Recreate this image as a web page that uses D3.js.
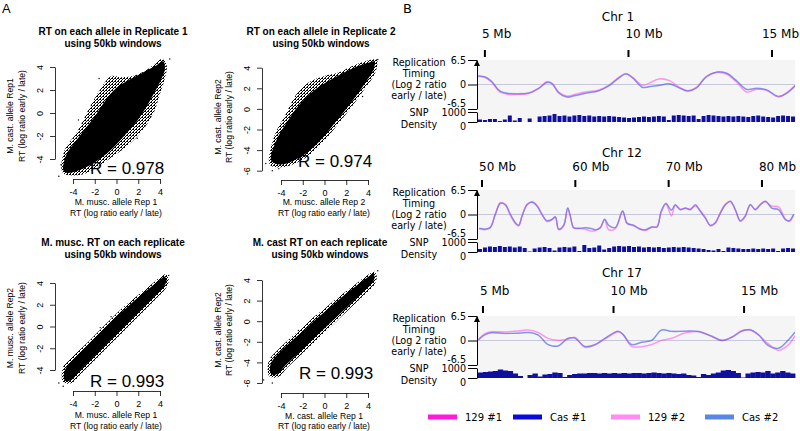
<!DOCTYPE html>
<html>
<head>
<meta charset="utf-8">
<script src="https://cdn.jsdelivr.net/npm/d3@7"></script>
<style>
  body { margin: 0; background: #fff; }
  svg { display: block; }
</style>
</head>
<body>
<svg id="fig" width="800" height="431"></svg>
<script>
// ---------- Panel A: RT scatter clouds (log ratio early / late) ----------
const xTicksA = [-4, -2, 0, 2, 4];
const yTicksShort = [-4, -2, 0, 2, 4];
const yTicksLong = [-6, -4, -2, 0, 2, 4];

// outline of the dense core and of the sparse fringe, plus stray points
const rep1Core = [[-4.9,-4.96],[-4.6,-3.6],[-3.7,-2.4],[-2.9,-1.4],[-2.0,-0.3],[-1.0,1.1],[0.0,2.2],[1.0,2.8],[2.4,3.5],[3.6,4.1],[4.3,4.5],[4.45,3.8],[4.0,2.7],[3.5,1.8],[2.8,0.6],[1.9,-0.7],[0.7,-2.0],[-0.5,-3.2],[-2.0,-4.3],[-3.5,-5.0],[-4.6,-5.2]];
const rep1Fringe = [[-5.0,-5.1],[-4.8,-3.3],[-3.6,-1.6],[-2.4,0.6],[-1.4,2.2],[-0.5,3.2],[0.5,3.1],[1.8,3.3],[3.0,3.9],[4.2,4.7],[4.6,4.2],[4.5,3.2],[3.9,1.4],[3.5,0.2],[2.4,-1.5],[1.2,-2.7],[-0.2,-3.7],[-1.6,-4.6],[-3.0,-5.3],[-4.5,-5.4]];
const rep1Dots = [[-5.3,-5.5],[-5.1,-4.5],[4.9,4.7],[3.1,-0.3],[2.6,-1.1],[-1.6,3.0],[-3.5,-0.6],[1.9,-2.2]];

const rep2Core = [[-4.9,-5.0],[-4.4,-3.0],[-3.4,-1.2],[-2.4,0.3],[-1.2,1.6],[0.0,2.5],[1.2,3.2],[2.5,3.9],[3.8,4.4],[4.6,4.6],[4.5,3.8],[3.8,2.6],[3.0,1.4],[2.0,0.0],[1.0,-1.3],[0.0,-2.6],[-1.2,-3.9],[-2.6,-4.9],[-4.0,-5.4]];
const rep2Fringe = [[-5.1,-5.2],[-4.6,-2.6],[-3.6,-0.6],[-2.6,1.4],[-1.4,2.6],[0.0,3.2],[1.2,3.5],[2.6,4.2],[4.0,4.7],[4.8,4.8],[4.7,3.6],[3.4,1.5],[2.2,-0.2],[1.0,-1.8],[-0.3,-3.4],[-1.8,-4.8],[-3.5,-5.6],[-4.8,-5.6]];
const rep2Dots = [[-5.4,-5.3],[-4.8,-6.0],[-4.2,-5.8],[4.9,4.8],[-3.0,0.3],[3.5,1.2]];

const muscCore = [[-4.85,-4.7],[-4.7,-3.9],[-4.0,-3.1],[-3.0,-2.1],[-2.0,-1.1],[-1.0,-0.1],[0.0,0.9],[1.0,1.8],[2.0,2.7],[3.0,3.5],[4.0,4.3],[4.4,4.6],[4.6,4.3],[4.4,3.7],[3.5,2.8],[2.5,1.8],[1.5,0.8],[0.5,-0.2],[-0.5,-1.2],[-1.5,-2.2],[-2.5,-3.2],[-3.5,-4.2],[-4.2,-4.95],[-4.7,-5.0]];
const muscFringe = [[-5.0,-4.9],[-4.9,-3.7],[-4.1,-2.8],[-3.0,-1.8],[-2.0,-0.8],[-1.0,0.2],[0.0,1.2],[1.0,2.1],[2.0,2.9],[3.0,3.7],[4.0,4.5],[4.5,4.8],[4.8,4.4],[4.6,3.6],[3.6,2.5],[2.6,1.5],[1.6,0.5],[0.6,-0.5],[-0.4,-1.5],[-1.4,-2.5],[-2.4,-3.5],[-3.4,-4.5],[-4.1,-5.2],[-4.8,-5.2]];
const muscDots = [[-5.3,-5.2],[-4.9,-5.5],[4.8,4.7],[-0.5,0.9],[-1.5,-0.1]];

const castCore = [[-5.0,-4.9],[-4.9,-4.0],[-4.2,-3.1],[-3.0,-1.9],[-2.0,-1.0],[-1.0,0.0],[0.0,0.9],[1.0,1.8],[2.0,2.7],[3.0,3.5],[4.0,4.3],[4.5,4.6],[4.6,4.2],[4.3,3.6],[3.4,2.7],[2.4,1.7],[1.4,0.7],[0.4,-0.3],[-0.6,-1.3],[-1.6,-2.3],[-2.6,-3.3],[-3.6,-4.3],[-4.3,-5.1],[-4.8,-5.2]];
const castFringe = [[-5.2,-5.0],[-5.1,-3.8],[-4.3,-2.8],[-3.1,-1.6],[-2.1,-0.7],[-1.1,0.3],[0.0,1.2],[1.0,2.1],[2.0,2.9],[3.0,3.7],[4.0,4.5],[4.6,4.8],[4.8,4.3],[4.5,3.4],[3.5,2.4],[2.5,1.4],[1.5,0.4],[0.5,-0.6],[-0.5,-1.6],[-1.5,-2.6],[-2.5,-3.6],[-3.5,-4.6],[-4.2,-5.4],[-5.0,-5.4]];
const castDots = [[-5.6,-5.7],[-4.8,-6.0],[4.9,4.9],[-2.4,-0.9]];

// ---------- Panel B: replication timing tracks ----------
const seriesNames = ["129 #1", "Cas #1", "129 #2", "Cas #2"];

const chr1Ticks = [5, 10, 15];
const chr1Pos = [4.77,5.0,5.23,5.53,5.82,6.17,6.52,6.87,7.16,7.34,7.57,7.86,8.15,8.5,8.97,9.32,9.67,9.91,10.14,10.49,10.72,11.07,11.43,11.78,12.07,12.36,12.71,13.06,13.41,13.76,14.11,14.46,14.81,15.22,15.51,15.81];
const chr1_129_1 = [2.2,1.9,0.7,-2.0,-2.6,-2.6,-2.4,-1.1,0.7,0.3,-2.0,-3.1,-2.6,-2.0,-1.5,-0.2,1.9,2.8,1.9,-0.2,0.4,1.5,1.0,-0.8,-1.7,-0.8,2.0,3.2,2.8,0.7,-2.0,-1.3,-1.5,-3.3,-2.2,-0.2];
const chr1_cas_1 = [2.3,2.0,0.8,-1.8,-2.4,-2.5,-2.3,-1.0,0.6,0.2,-2.2,-3.3,-2.9,-2.3,-1.6,-0.3,1.8,2.9,1.8,-0.8,-0.6,-0.2,0.2,-0.9,-1.7,-0.9,2.1,3.3,3.0,1.0,-1.3,-1.0,-1.4,-3.2,-2.3,-0.3];
const chr1_129_2 = [2.1,1.8,0.6,-2.1,-2.7,-2.7,-2.4,-1.0,0.8,0.3,-2.1,-3.0,-2.5,-1.9,-1.4,-0.1,2.0,2.9,1.8,-0.3,0.3,1.4,1.1,-0.7,-1.6,-0.7,2.1,3.1,2.7,0.6,-1.9,-1.2,-1.6,-3.2,-2.1,-0.1];
const chr1_cas_2 = [2.2,2.0,0.9,-1.7,-2.3,-2.4,-2.2,-1.1,0.5,0.2,-2.3,-3.4,-3.0,-2.4,-1.7,-0.4,1.7,2.8,1.9,-0.7,-0.5,-0.3,0.1,-1.0,-1.8,-1.0,2.0,3.2,3.1,1.1,-1.2,-1.1,-1.5,-3.1,-2.4,-0.4];
const chr1Snp = [250,200,300,300,100,250,650,150,400,0,350,0,550,600,650,800,600,650,550,650,700,600,650,550,600,550,600,550,500,450,400,450,500,550,500,550,600,550,200,650,700,650,600,650,300,600,700,650,600,550,600,550,600,550,500,600,650,550,500,450,600,650,600,550];

const chr12Ticks = [50, 60, 70, 80];
const chr12Pos = [49.71,50.36,50.89,51.43,51.96,52.5,53.04,53.57,53.93,54.29,54.82,55.36,55.89,56.43,56.96,57.5,57.86,58.21,58.75,59.18,59.46,59.82,60.36,61.07,61.79,62.14,62.68,63.14,63.57,64.29,65.07,65.54,66.25,66.96,67.5,68.21,68.75,69.21,69.71,70.29,70.71,71.25,71.79,72.32,72.86,73.39,73.93,74.46,75.0,75.54,76.07,76.61,77.14,77.68,78.21,78.75,79.29,79.82,80.36,81.07,81.79,82.5,82.93,83.39];
const chr12_129_1 = [-3.8,-4.0,-3.4,0.2,3.1,2.5,-0.2,-2.4,-3.0,-0.3,2.5,3.4,2.4,0.1,-1.8,-1.4,-0.7,-4.0,-3.0,1.6,-0.5,-3.6,-3.6,-3.9,-4.4,-4.3,-3.4,-1.4,-4.0,-3.8,0.8,-2.4,-3.0,-3.8,-4.2,-3.4,-3.2,0.7,2.8,-0.4,2.4,1.4,1.6,1.5,2.2,1.0,-0.8,-3.0,-2.3,0.5,2.7,3.4,1.2,-1.8,-0.5,2.5,1.4,2.7,3.4,2.2,2.0,-1.2,-1.8,-0.2];
const chr12_cas_1 = [-3.7,-3.9,-3.5,0,3.0,2.6,0,-2.2,-2.9,-0.4,2.6,3.3,2.3,0,-1.7,-1.3,-0.6,-3.9,-2.9,1.7,-0.4,-3.5,-3.7,-3.5,-3.8,-4.1,-3.5,-1.3,-2.9,-3.5,0.9,-2.3,-2.9,-3.9,-4.1,-3.3,-3.3,0.9,2.9,1.1,2.6,1.3,1.7,1.3,2.6,0.9,-0.9,-2.9,-2.2,0.4,2.6,3.5,1.3,-1.7,-0.4,2.6,1.3,2.6,3.5,1.7,1.3,-1.3,-1.7,0];
const chr12_129_2 = [-3.9,-4.1,-3.3,0.3,3.2,2.4,-0.3,-2.5,-3.1,-0.2,2.4,3.5,2.5,0.2,-1.9,-1.5,-0.8,-4.1,-3.1,1.5,-0.6,-3.7,-3.5,-4.0,-4.5,-4.2,-3.3,-1.5,-4.1,-3.7,0.7,-2.5,-3.1,-3.7,-4.3,-3.5,-3.1,0.6,2.7,-0.2,2.3,1.5,1.5,1.6,2.1,1.1,-0.7,-3.1,-2.4,0.6,2.8,3.3,1.1,-1.9,-0.6,2.4,1.5,2.8,3.3,2.3,2.1,-1.1,-1.9,-0.3];
const chr12_cas_2 = [-3.6,-3.8,-3.4,0.1,2.9,2.7,0.1,-2.1,-2.8,-0.5,2.7,3.2,2.2,-0.1,-1.6,-1.2,-0.7,-3.8,-2.8,1.8,-0.3,-3.4,-3.8,-3.6,-3.7,-4.0,-3.6,-1.2,-2.8,-3.4,1.0,-2.2,-2.8,-4.0,-4.0,-3.2,-3.4,1.0,3.0,1.2,2.5,1.2,1.8,1.2,2.5,0.8,-1.0,-2.8,-2.1,0.3,2.5,3.6,1.4,-1.6,-0.3,2.7,1.2,2.5,3.6,1.6,1.2,-1.4,-1.6,0.1];
const chr12Snp = [300,450,550,500,600,500,550,450,550,400,50,350,450,500,400,150,450,500,450,550,100,700,400,450,650,250,400,550,600,550,600,500,550,450,500,450,500,400,450,500,450,500,450,400,350,300,200,150,300,100,450,400,350,300,300,350,300,350,300,350,100,350,400,350];

const chr17Ticks = [5, 10, 15];
const chr17Pos = [4.83,5.06,5.32,5.83,6.34,6.73,7.11,7.49,7.88,8.26,8.52,8.9,9.28,9.67,10.18,10.37,10.69,11.07,11.46,11.84,12.23,12.74,13.25,13.76,14.14,14.53,14.91,15.23,15.55,15.93,16.32,16.7,16.95];
const chr17_129_1 = [0.2,1.8,2.3,2.3,2.5,2.8,2.1,0.6,0,0.4,0.8,-1.8,-1.2,0.4,2.3,1.6,-1.6,-1.6,-1.1,0,0.6,2.0,2.4,1.1,0,0.9,2.6,2.8,1.5,-0.9,-2.6,-1.1,1.3];
const chr17_cas_1 = [0.2,1.5,2.1,1.9,1.9,2.1,1.5,-1.1,-1.4,0.6,0.6,-1.6,-1.1,0.6,2.5,1.5,-1.1,-0.5,0,2.8,2.4,2.5,2.4,1.1,0,0.9,2.5,2.8,1.5,-1.4,-2.0,0.2,2.2];
const chr17_129_2 = [0.1,1.7,2.4,2.2,2.6,2.7,2.2,0.5,0.1,0.3,0.9,-1.9,-1.1,0.3,2.2,1.7,-1.5,-1.7,-1.0,0.1,0.5,2.1,2.3,1.0,0.1,0.8,2.7,2.7,1.4,-1.0,-2.5,-1.2,1.2];
const chr17_cas_2 = [0.3,1.4,2.0,1.8,2.0,2.2,1.4,-1.0,-1.5,0.5,0.7,-1.5,-1.2,0.5,2.4,1.6,-1.0,-0.4,0.1,2.7,2.5,2.4,2.3,1.2,0.1,0.8,2.4,2.9,1.6,-1.3,-2.1,0.1,2.3];
const chr17Snp = [550,600,650,700,850,750,700,450,200,0,300,450,150,350,400,550,500,100,300,400,450,450,500,500,450,500,450,500,450,500,450,500,500,450,500,550,500,450,500,450,400,450,300,250,100,400,300,450,550,750,800,700,500,50,450,550,600,550,700,450,550,700,550,450];

// ---------- layout ----------
const panelsA = [
  { title: ["RT on each allele in Replicate 1", "using 50kb windows"],
    ylab: ["M. cast. allele Rep1", "RT (log ratio early / late)"],
    xlab: ["M. musc. allele Rep 1", "RT (log ratio early / late)"],
    r: "R = 0.978", core: rep1Core, fringe: rep1Fringe, dots: rep1Dots, yTicks: yTicksShort,
    x0: 73, x1: 160, yTop: 67, yBot: 159, axisX: 55, axisY: 179,
    titleX: 113, titleY: [35, 47], ylabX: [10, 22], ylabY: 116, xlabX: 116, xlabY: [205, 216], rX: 90, rY: 174 },
  { title: ["RT on each allele in Replicate 2", "using 50kb windows"],
    ylab: ["M. cast. allele Rep2", "RT (log ratio early / late)"],
    xlab: ["M. musc. allele Rep 2", "RT (log ratio early / late)"],
    r: "R = 0.974", core: rep2Core, fringe: rep2Fringe, dots: rep2Dots, yTicks: yTicksLong,
    x0: 281, x1: 368, yTop: 67.7, yBot: 170.7, axisX: 262, axisY: 180,
    titleX: 321, titleY: [35, 47], ylabX: [218, 229], ylabY: 117, xlabX: 324, xlabY: [205, 216], rX: 298, rY: 167 },
  { title: ["M. musc. RT on each replicate", "using 50kb windows"],
    ylab: ["M. musc. allele Rep2", "RT (log ratio early / late)"],
    xlab: ["M. musc. allele Rep 1", "RT (log ratio early / late)"],
    r: "R = 0.993", core: muscCore, fringe: muscFringe, dots: muscDots, yTicks: yTicksShort,
    x0: 73, x1: 160, yTop: 283, yBot: 370, axisX: 55, axisY: 391,
    titleX: 113, titleY: [246, 258], ylabX: [10, 22], ylabY: 328, xlabX: 116, xlabY: [418, 429], rX: 90, rY: 387 },
  { title: ["M. cast RT on each replicate", "using 50kb windows"],
    ylab: ["M. cast. allele Rep2", "RT (log ratio early / late)"],
    xlab: ["M. cast. allele Rep 1", "RT (log ratio early / late)"],
    r: "R = 0.993", core: castCore, fringe: castFringe, dots: castDots, yTicks: yTicksLong,
    x0: 281, x1: 368, yTop: 280, yBot: 383, axisX: 262, axisY: 393,
    titleX: 320, titleY: [246, 258], ylabX: [218, 229], ylabY: 330, xlabX: 324, xlabY: [419, 429], rX: 299, rY: 379 }
];

const tracks = [
  { name: "Chr 1", pos: chr1Pos, lines: [chr1_129_1, chr1_cas_1, chr1_129_2, chr1_cas_2], snp: chr1Snp,
    domain: [4.76, 15.8], ticks: chr1Ticks, top: 60, titleY: 21, mbY: 38, titleX: 618, pad: 0.2 },
  { name: "Chr 12", pos: chr12Pos, lines: [chr12_129_1, chr12_cas_1, chr12_129_2, chr12_cas_2], snp: chr12Snp,
    domain: [49.57, 83.54], ticks: chr12Ticks, top: 190, titleY: 157, mbY: 171, titleX: 622, pad: 0.2 },
  { name: "Chr 17", pos: chr17Pos, lines: [chr17_129_1, chr17_cas_1, chr17_129_2, chr17_cas_2], snp: chr17Snp,
    domain: [4.81, 16.95], ticks: chr17Ticks, top: 316, titleY: 277, mbY: 295, titleX: 622, pad: 0 }
];
const seriesColors = ["#ff1ad9", "#0a0adc", "#ff8cf0", "#5a87e6"];

const svg = d3.select("#fig");
const fontA = "'Liberation Sans', Arial, sans-serif";
const fontB = "'DejaVu Sans', sans-serif";

// sparse dot pattern to imitate the speckled edge of each cloud
const pat = svg.append("defs").append("pattern")
  .attr("id", "speckle").attr("width", 3).attr("height", 3)
  .attr("patternUnits", "userSpaceOnUse");
[[0, 0], [2, 1], [1, 2], [1, 0]].forEach(([px, py]) => {
  pat.append("rect").attr("x", px).attr("y", py).attr("width", 1).attr("height", 1).attr("fill", "#000");
});

// ---------- draw panel A ----------
const gA = svg.append("g").attr("font-family", fontA);
gA.append("text").attr("x", 2).attr("y", 13).attr("font-size", 13).text("A");

panelsA.forEach(p => {
  const x = d3.scaleLinear().domain([-4, 4]).range([p.x0, p.x1]);
  const y = d3.scaleLinear().domain(d3.extent(p.yTicks)).range([p.yBot, p.yTop]);
  const g = gA.append("g");

  const outline = d3.line()
    .x(d => x(d[0]))
    .y(d => y(d[1]))
    .curve(d3.curveCatmullRomClosed);

  g.append("path").attr("d", outline(p.fringe)).attr("fill", "url(#speckle)");
  g.append("path").attr("d", outline(p.core)).attr("fill", "#000");
  g.selectAll("circle")
    .data(p.dots)
    .join("circle")
    .attr("cx", d => x(d[0]))
    .attr("cy", d => y(d[1]))
    .attr("r", 0.7)
    .attr("fill", "#000");

  // axes (R style: detached, labels parallel to axis)
  const gx = g.append("g")
    .attr("transform", `translate(0,${p.axisY})`)
    .call(d3.axisBottom(x).tickValues(xTicksA).tickSize(5).tickSizeOuter(0).tickPadding(5).tickFormat(d => String(d)));
  const gy = g.append("g")
    .attr("transform", `translate(${p.axisX},0)`)
    .call(d3.axisLeft(y).tickValues(p.yTicks).tickSize(5).tickSizeOuter(0).tickFormat(d => String(d)));
  [gx, gy].forEach(a => {
    a.attr("font-family", fontA).attr("font-size", 9);
    a.selectAll("path, line").attr("stroke-width", 0.8);
  });
  gy.selectAll(".tick text")
    .attr("x", 0).attr("y", -15).attr("dy", "0.35em")
    .attr("text-anchor", "middle")
    .attr("transform", "rotate(-90)");

  g.selectAll("text.title")
    .data(p.title)
    .join("text")
    .attr("class", "title")
    .attr("x", p.titleX)
    .attr("y", (d, i) => p.titleY[i])
    .attr("text-anchor", "middle")
    .attr("font-size", 10)
    .attr("font-weight", "bold")
    .text(d => d);

  g.selectAll("text.ylab")
    .data(p.ylab)
    .join("text")
    .attr("class", "ylab")
    .attr("transform", (d, i) => `translate(${p.ylabX[i]},${p.ylabY}) rotate(-90)`)
    .attr("dy", "0.35em")
    .attr("text-anchor", "middle")
    .attr("font-size", 8.6)
    .text(d => d);

  g.selectAll("text.xlab")
    .data(p.xlab)
    .join("text")
    .attr("class", "xlab")
    .attr("x", p.xlabX)
    .attr("y", (d, i) => p.xlabY[i])
    .attr("text-anchor", "middle")
    .attr("font-size", 8.6)
    .text(d => d);

  g.append("text")
    .attr("x", p.rX)
    .attr("y", p.rY)
    .attr("font-size", 17)
    .text(p.r);
});

// ---------- draw panel B ----------
const gB = svg.append("g").attr("font-family", fontB);
gB.append("text").attr("x", 403).attr("y", 13).attr("font-size", 13).text("B");

const xL = 478, xR = 795;
const labX = 419;

tracks.forEach((t, ti) => {
  const x = d3.scaleLinear().domain(t.domain).range([xL, xR]);
  const y = d3.scaleLinear().domain([-6.5, 6.5]).range([t.top + 49, t.top]);
  const ys = d3.scaleLinear().domain([0, 1000]).range([t.top + 62, t.top + 52]);
  const bins = d3.scaleBand().domain(d3.range(t.snp.length)).range([xL, xR]).paddingInner(t.pad);
  const g = gB.append("g");

  g.append("rect")
    .attr("x", xL).attr("y", t.top)
    .attr("width", xR - xL).attr("height", 62)
    .attr("fill", "#f5f5f5");

  g.append("text")
    .attr("x", t.titleX).attr("y", t.titleY)
    .attr("text-anchor", "middle").attr("font-size", 12)
    .text(t.name);

  // Mb position marks
  g.selectAll("line.mb")
    .data(t.ticks)
    .join("line")
    .attr("class", "mb")
    .attr("x1", d => x(d)).attr("x2", d => x(d))
    .attr("y1", t.top - 10).attr("y2", t.top - 3)
    .attr("stroke", "#000").attr("stroke-width", 2);
  g.selectAll("text.mb")
    .data(t.ticks)
    .join("text")
    .attr("class", "mb")
    .attr("x", d => x(d) - 3).attr("y", t.mbY)
    .attr("font-size", 12)
    .text(d => d + " Mb")
    .each(function () {
      // keep the last label inside the figure
      const w = this.getComputedTextLength();
      const x0 = +this.getAttribute("x");
      if (x0 + w > 799) this.setAttribute("x", 799 - w);
    });

  // track labels
  g.selectAll("text.lab")
    .data(["Replication", "Timing", "(Log 2 ratio", "early / late)"])
    .join("text")
    .attr("class", "lab")
    .attr("x", labX).attr("y", (d, i) => t.top + 6 + i * 11)
    .attr("text-anchor", "middle").attr("font-size", 9.6)
    .text(d => d);
  g.selectAll("text.snplab")
    .data(["SNP", "Density"])
    .join("text")
    .attr("class", "snplab")
    .attr("x", labX).attr("y", (d, i) => t.top + 56 + i * 12)
    .attr("text-anchor", "middle").attr("font-size", 9.6)
    .text(d => d);

  // RT axis
  const ay = g.append("g")
    .attr("transform", `translate(${xL - 1},0)`)
    .call(d3.axisLeft(y).tickValues([-6.5, 0, 6.5]).tickSize(9).tickSizeOuter(0).tickPadding(2)
      .tickFormat(d => String(d)));
  ay.selectAll(".tick text").filter(d => d === -6.5).attr("dy", "-0.3em");
  g.append("path")
    .attr("d", `M${xL - 4},${t.top + 6}L${xL - 1},${t.top}L${xL + 2},${t.top + 6}Z`)
    .attr("fill", "#000");

  // SNP axis
  const as = g.append("g")
    .attr("transform", `translate(${xL - 1},0)`)
    .call(d3.axisLeft(ys).tickValues([0, 1000]).tickSize(9).tickSizeOuter(0).tickPadding(2)
      .tickFormat(d => String(d)));
  as.selectAll(".tick text").attr("dy", d => d === 0 ? "0.8em" : "0.4em");
  [ay, as].forEach(a => a.attr("font-family", fontB).attr("font-size", 9.6));

  // zero line
  g.append("line")
    .attr("x1", xL).attr("x2", xR)
    .attr("y1", y(0)).attr("y2", y(0))
    .attr("stroke", "#c8c8dc").attr("stroke-width", 1);

  // RT curves
  const clipId = "clip" + ti;
  g.append("clipPath").attr("id", clipId)
    .append("rect").attr("x", xL).attr("y", t.top).attr("width", xR - xL).attr("height", 49);
  const line = d3.line()
    .x((d, i) => x(t.pos[i]))
    .y(d => y(d))
    .curve(d3.curveCatmullRom.alpha(0.5));
  g.selectAll("path.rt")
    .data(t.lines)
    .join("path")
    .attr("class", "rt")
    .attr("clip-path", `url(#${clipId})`)
    .attr("d", line)
    .attr("fill", "none")
    .attr("stroke", (d, i) => seriesColors[i])
    .attr("stroke-opacity", 0.4)
    .attr("stroke-width", 1.3);

  // SNP density bars
  g.selectAll("rect.snp")
    .data(t.snp)
    .join("rect")
    .attr("class", "snp")
    .attr("x", (d, i) => bins(i))
    .attr("width", bins.bandwidth() + (t.pad === 0 ? 0.4 : 0))
    .attr("y", d => ys(d))
    .attr("height", d => ys(0) - ys(d))
    .attr("fill", "#10109e");
});

// legend
const legendX = [428, 513, 611, 705];
const leg = gB.selectAll("g.leg")
  .data(seriesNames)
  .join("g")
  .attr("class", "leg")
  .attr("transform", (d, i) => `translate(${legendX[i]},417)`);
leg.append("rect")
  .attr("x", 0).attr("y", -2.5).attr("width", 29).attr("height", 5)
  .attr("fill", (d, i) => seriesColors[i]);
leg.append("text")
  .attr("x", 37).attr("y", 3.5)
  .attr("font-size", 10)
  .text(d => d);
</script>
</body>
</html>
